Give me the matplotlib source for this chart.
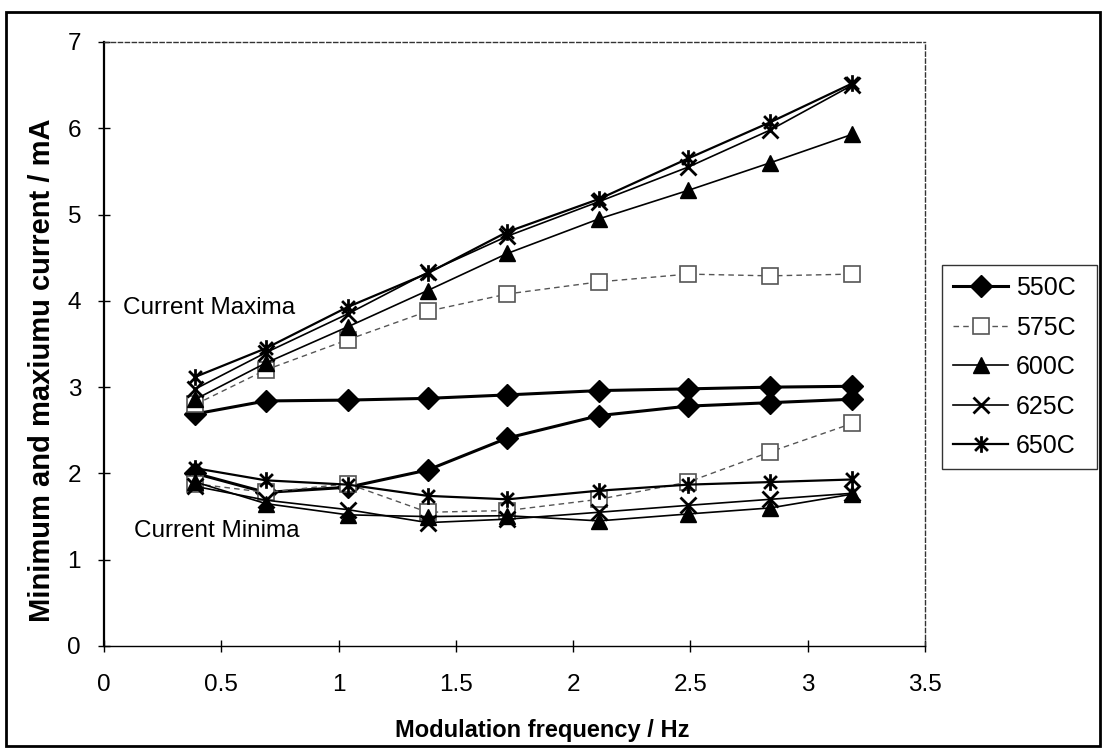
import matplotlib
matplotlib.use("Agg")
import matplotlib.pyplot as plt
from matplotlib.path import Path
from matplotlib.patches import Rectangle

# Modulation frequency (Hz)
freq = [0.39, 0.69, 1.04, 1.38, 1.72, 2.11, 2.49, 2.84, 3.19]

# Current maxima (mA)
max_550 = [2.69, 2.84, 2.85, 2.87, 2.91, 2.96, 2.98, 3.00, 3.01]
max_575 = [2.80, 3.20, 3.55, 3.88, 4.08, 4.22, 4.31, 4.29, 4.31]
max_600 = [2.86, 3.28, 3.70, 4.12, 4.55, 4.95, 5.28, 5.60, 5.93]
max_625 = [2.98, 3.40, 3.85, 4.33, 4.75, 5.15, 5.55, 5.98, 6.50]
max_650 = [3.12, 3.45, 3.93, 4.32, 4.80, 5.18, 5.65, 6.07, 6.52]

# Current minima (mA)
min_550 = [2.00, 1.78, 1.84, 2.04, 2.41, 2.67, 2.78, 2.82, 2.86]
min_575 = [1.88, 1.78, 1.88, 1.55, 1.57, 1.70, 1.90, 2.25, 2.58]
min_600 = [1.90, 1.65, 1.52, 1.50, 1.51, 1.45, 1.53, 1.60, 1.76]
min_625 = [1.85, 1.69, 1.58, 1.43, 1.47, 1.55, 1.63, 1.70, 1.77]
min_650 = [2.06, 1.92, 1.87, 1.74, 1.70, 1.80, 1.87, 1.90, 1.93]

labels = ["550C", "575C", "600C", "625C", "650C"]

W, H = 1105, 750

# Excel style star marker: x with a vertical bar
star = Path([(-1, -1), (1, 1), (-1, 1), (1, -1), (0, -1.3), (0, 1.3)],
            [Path.MOVETO, Path.LINETO, Path.MOVETO, Path.LINETO, Path.MOVETO, Path.LINETO])

styles = [
    dict(color="black", lw=2.2, marker="D", ms=11, mfc="black", mec="black", ls="-"),
    dict(color="#555555", lw=1.0, marker="s", ms=11, mfc="white", mec="#555555", mew=1.2,
         ls=(0, (4, 3))),
    dict(color="black", lw=1.2, marker="^", ms=11, mfc="black", mec="black", ls="-"),
    dict(color="black", lw=1.2, marker="x", ms=11, mew=2.0, mec="black", ls="-"),
    dict(color="black", lw=1.6, marker=star, ms=12, mew=2.0, mec="black", ls="-"),
]

plt.rcParams["font.family"] = ["Liberation Sans", "DejaVu Sans"]

fig = plt.figure(figsize=(W / 100, H / 100), dpi=100)
ax = fig.add_axes([104 / W, 1 - 646 / H, (925 - 104) / W, (646 - 42) / H])

maxima = [max_550, max_575, max_600, max_625, max_650]
minima = [min_550, min_575, min_600, min_625, min_650]
for lab, st, ymax, ymin in zip(labels, styles, maxima, minima):
    ax.plot(freq, ymax, label=lab, **st)
    ax.plot(freq, ymin, **st)

ax.set_xlim(0, 3.5)
ax.set_ylim(0, 7)
ax.set_xticks([0, 0.5, 1, 1.5, 2, 2.5, 3, 3.5])
ax.set_xticklabels(["0", "0.5", "1", "1.5", "2", "2.5", "3", "3.5"])
ax.set_yticks(range(0, 8))
ax.tick_params(direction="inout", length=9, width=1, labelsize=17.5)
ax.tick_params(axis="x", pad=16)
ax.tick_params(axis="y", pad=12)

ax.spines["left"].set_linewidth(1.6)
ax.spines["bottom"].set_linewidth(1.0)
ax.spines["bottom"].set_linestyle((0, (2, 1)))
for side in ("top", "right"):
    ax.spines[side].set_linestyle((0, (3, 2)))
    ax.spines[side].set_linewidth(1.0)
    ax.spines[side].set_color("#333333")

fig.text(542 / W, 1 - 730 / H, "Modulation frequency / Hz", fontsize=17,
         fontweight="bold", ha="center", va="center")
fig.text(42 / W, 1 - 370 / H, "Minimum and maxiumu current / mA", fontsize=21,
         fontweight="bold", ha="center", va="center", rotation=90)

ax.text(0.08, 3.92, "Current Maxima", fontsize=17.5, va="center", ha="left")
ax.text(0.13, 1.33, "Current Minima", fontsize=17.5, va="center", ha="left")

leg = ax.legend(loc="upper left", mode="expand",
                bbox_to_anchor=(942 / W, 1 - 475 / H, 155 / W, 210 / H),
                bbox_transform=fig.transFigure, borderaxespad=0, fontsize=18,
                handlelength=2.2, labelspacing=0.62, handletextpad=0.3,
                frameon=True, fancybox=False, borderpad=0.45)
leg.get_frame().set_edgecolor("black")
leg.get_frame().set_linewidth(1.0)

# Outer chart border
fig.patches.append(Rectangle((6 / W, 4 / H), 1094 / W, 734 / H,
                             transform=fig.transFigure, fill=False,
                             edgecolor="black", lw=2))

fig.savefig("out.png", dpi=100)
